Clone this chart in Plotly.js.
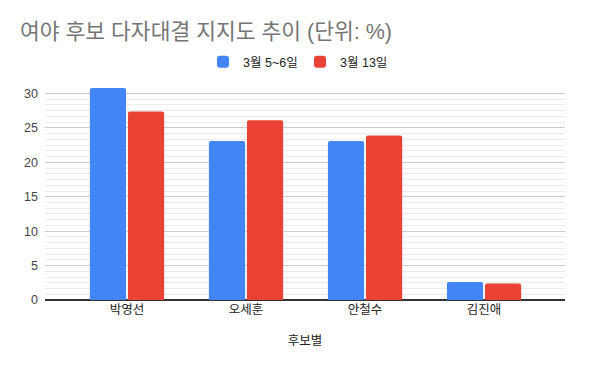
<!DOCTYPE html>
<html>
<head>
<meta charset="utf-8">
<script src="https://cdn.plot.ly/plotly-3.0.1.min.js"></script>
<style>html,body{margin:0;padding:0;background:#fff;}#chart{width:600px;height:371px;}</style>
</head>
<body>
<div id="chart"></div>
<script>
const categories = ['박영선', '오세훈', '안철수', '김진애'];
const seriesNames = ['3월 5~6일', '3월 13일'];
const march5to6 = [30.8, 23.1, 23.1, 2.6];
const march13 = [27.4, 26.1, 23.9, 2.4];
const yTicks = [0, 5, 10, 15, 20, 25, 30];

const FONT = 'Arial, "Liberation Sans", "Noto Sans CJK KR", sans-serif';

const traces = [
  {type: 'bar', name: seriesNames[0], x: categories, y: march5to6,
   marker: {color: '#4285f4'}, hoverinfo: 'x+y'},
  {type: 'bar', name: seriesNames[1], x: categories, y: march13,
   marker: {color: '#ea4335'}, hoverinfo: 'x+y'}
];

const layout = {
  width: 600, height: 371,
  margin: {l: 45, r: 35, t: 88, b: 71},
  paper_bgcolor: '#fff', plot_bgcolor: '#fff',
  font: {family: FONT, size: 12, color: '#222'},
  title: {text: '여야 후보 다자대결 지지도 추이 (단위: %)', x: 20/600, xref: 'container', xanchor: 'left',
          y: 1 - 31/371, yref: 'container', yanchor: 'middle',
          font: {family: FONT, size: 21.5, color: '#757575'}},
  barmode: 'group', bargap: 0.36, bargroupgap: 0.05, barcornerradius: 2,
  showlegend: true,
  legend: {orientation: 'h', x: 0.5, xref: 'container', xanchor: 'center',
           y: 1 - 62/371, yref: 'container', yanchor: 'middle',
           font: {family: FONT, size: 12.5, color: '#222'}, entrywidth: 52, traceorder: 'normal'},
  xaxis: {type: 'category', range: [-0.689, 3.68], showgrid: false, zeroline: false,
          showline: false, ticks: '', tickfont: {family: FONT, size: 12.5, color: '#222'},
          title: {text: '후보별', font: {family: FONT, size: 12.5, color: '#222'}, standoff: 20}},
  yaxis: {range: [0, 30.8], tickvals: yTicks, ticktext: yTicks.map(String),
          showgrid: true, gridcolor: '#cccccc', gridwidth: 1,
          minor: {dtick: 5/6, tick0: 0, showgrid: true, gridcolor: '#ebebeb', gridwidth: 1},
          zeroline: true, zerolinecolor: '#333333', zerolinewidth: 1.5,
          ticks: '', ticklabelstandoff: 6,
          tickfont: {family: FONT, size: 12.5, color: '#444'}}
};

Plotly.newPlot('chart', traces, layout, {displayModeBar: false, staticPlot: true});
</script>
</body>
</html>
